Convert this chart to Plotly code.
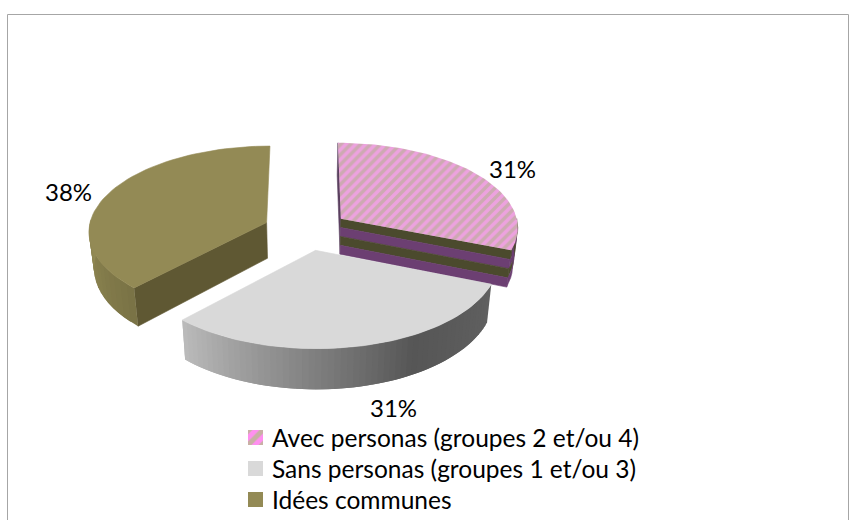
import math
import plotly.graph_objects as go

categories = ["Avec personas (groupes 2 et/ou 4)", "Sans personas (groupes 1 et/ou 3)", "Idées communes"]
values = [31, 31, 38]
label_xy = [(512, 168), (393, 407.5), (68, 191)]
legend_y = [437.5, 468.5, 499.5]

TOP = ["#e9a3dc", "#d9d9d9", "#938a55"]
FONT = "Lato"
X0, Y0, A, B, K, EXPL, DEPTH = 306, 230, 178, 85, 0.094, 0.24, 36


def project(X, V, t=0.0):
    w = 1 - K * V
    x = X0 + A * X / w
    y = Y0 + B * V / w
    x = X0 + (x - X0) * (1 - 0.023 * t)
    return x, y + DEPTH * t / w


total = sum(values)
spans = []
start = 0.0
for v in values:
    end = start + 360.0 * v / total
    spans.append((start, end))
    start = end


def offset(i):
    m = math.radians(sum(spans[i]) / 2)
    return EXPL * math.sin(m), -EXPL * math.cos(m)


def rim(i, deg):
    ox, ov = offset(i)
    a = math.radians(deg)
    return ox + math.sin(a), ov - math.cos(a)


def angles(a, b, n):
    return [a + (b - a) * j / n for j in range(n + 1)]


fig = go.Figure()


def poly(pts, color, pattern=None, line=True):
    xs = [p[0] for p in pts] + [pts[0][0]]
    ys = [p[1] for p in pts] + [pts[0][1]]
    kw = dict(fillpattern=pattern) if pattern else {}
    fig.add_trace(go.Scatter(
        x=xs, y=ys, mode="lines", fill="toself", fillcolor=color,
        line=dict(color=color, width=0.6 if line else 0),
        hoverinfo="skip", showlegend=False, **kw))


def radial_wall(i, deg, t0, t1, color):
    ox, ov = offset(i)
    rx, rv = rim(i, deg)
    poly([project(ox, ov, t0), project(rx, rv, t0), project(rx, rv, t1), project(ox, ov, t1)], color)


def arc_wall(i, a, b, t0, t1, color, line=True):
    n = max(2, int(abs(b - a) / 3))
    deg = angles(a, b, n)
    pts = [project(*rim(i, d), t0) for d in deg] + [project(*rim(i, d), t1) for d in reversed(deg)]
    poly(pts, color, line=line)


def top_face(i, pattern=None):
    ox, ov = offset(i)
    s, e = spans[i]
    pts = [project(ox, ov)] + [project(*rim(i, d)) for d in angles(s, e, 60)]
    poly(pts, TOP[i], pattern, line=pattern is None)


def mix(c1, c2, f):
    return "rgb(%d,%d,%d)" % tuple(round(p + (q - p) * f) for p, q in zip(c1, c2))


# Olive slice (back left): overlapping strips
s, e = spans[2]
radial_wall(2, s, 0, 1, "#5f5833")
M = 14
olive_deg = angles(s, 272, M)
for j in range(M):
    b = olive_deg[min(j + 2, M)]
    arc_wall(2, olive_deg[j], b, 0, 1, mix((122, 115, 70), (146, 138, 84), j / (M - 1)), line=False)
top_face(2)

# Patterned slice (back right)
BANDS = ["#4b4a2d", "#6c3f72", "#4b4a2d", "#6c3f72"]
s, e = spans[0]
radial_wall(0, s, 0, 1, "#5a3f5f")
for j, c in enumerate(BANDS):
    radial_wall(0, e, j / 4, (j + 1) / 4, c)
    arc_wall(0, 90, e, j / 4, (j + 1) / 4, c)
top_face(0, dict(shape="/", bgcolor="#eda2df", fgcolor="#adb085", size=7, solidity=0.5))

# Grey slice (front): overlapping strips avoid seams
s, e = spans[1]
N = 60
stops = [(0.0, (96, 96, 96)), (0.35, (86, 86, 86)), (0.65, (132, 132, 132)), (1.0, (186, 186, 186))]
deg = angles(s, e, N)
for j in range(N):
    f = j / (N - 1)
    for (f0, c0), (f1, c1) in zip(stops, stops[1:]):
        if f0 <= f <= f1:
            col = mix(c0, c1, (f - f0) / (f1 - f0))
            break
    arc_wall(1, deg[j], deg[min(j + 2, N)], 0, 1, col, line=False)
top_face(1)

# Data labels
annotations = []
for v, (lx, ly) in zip(values, label_xy):
    annotations.append(dict(x=lx, y=ly, xref="x", yref="y", text=f"{v}%", showarrow=False,
                            xanchor="center", yanchor="middle",
                            font=dict(family=FONT, size=24, color="#000000")))

# Legend keys and entries
KEY = [dict(shape="/", bgcolor="#ff8ff0", fgcolor="#93d15a", size=10, solidity=0.5), None, None]
KEYCOL = ["#ff8ff0", "#d9d9d9", "#938a55"]
for name, ly, pat, col in zip(categories, legend_y, KEY, KEYCOL):
    poly([(248, ly - 7.5), (263, ly - 7.5), (263, ly + 7.5), (248, ly + 7.5)], col, pat, line=False)
    annotations.append(dict(x=270, y=ly - 0.5, xref="x", yref="y", text=name, showarrow=False,
                            xanchor="left", yanchor="middle",
                            font=dict(family=FONT, size=24.5, color="#000000")))

fig.update_layout(
    width=857, height=520, margin=dict(l=0, r=0, t=0, b=0),
    paper_bgcolor="#ffffff", plot_bgcolor="#ffffff", showlegend=False,
    xaxis=dict(range=[0, 857], visible=False, fixedrange=True),
    yaxis=dict(range=[520, 0], visible=False, fixedrange=True),
    annotations=annotations,
    shapes=[dict(type="rect", xref="x", yref="y", x0=7.5, y0=14.5, x1=848.5, y1=530,
                 line=dict(color="#a6a6a6", width=1))],
)
fig.write_html("out.html", config={"displayModeBar": False},
               post_script="document.body.style.margin='0';document.documentElement.style.overflow='hidden';")
